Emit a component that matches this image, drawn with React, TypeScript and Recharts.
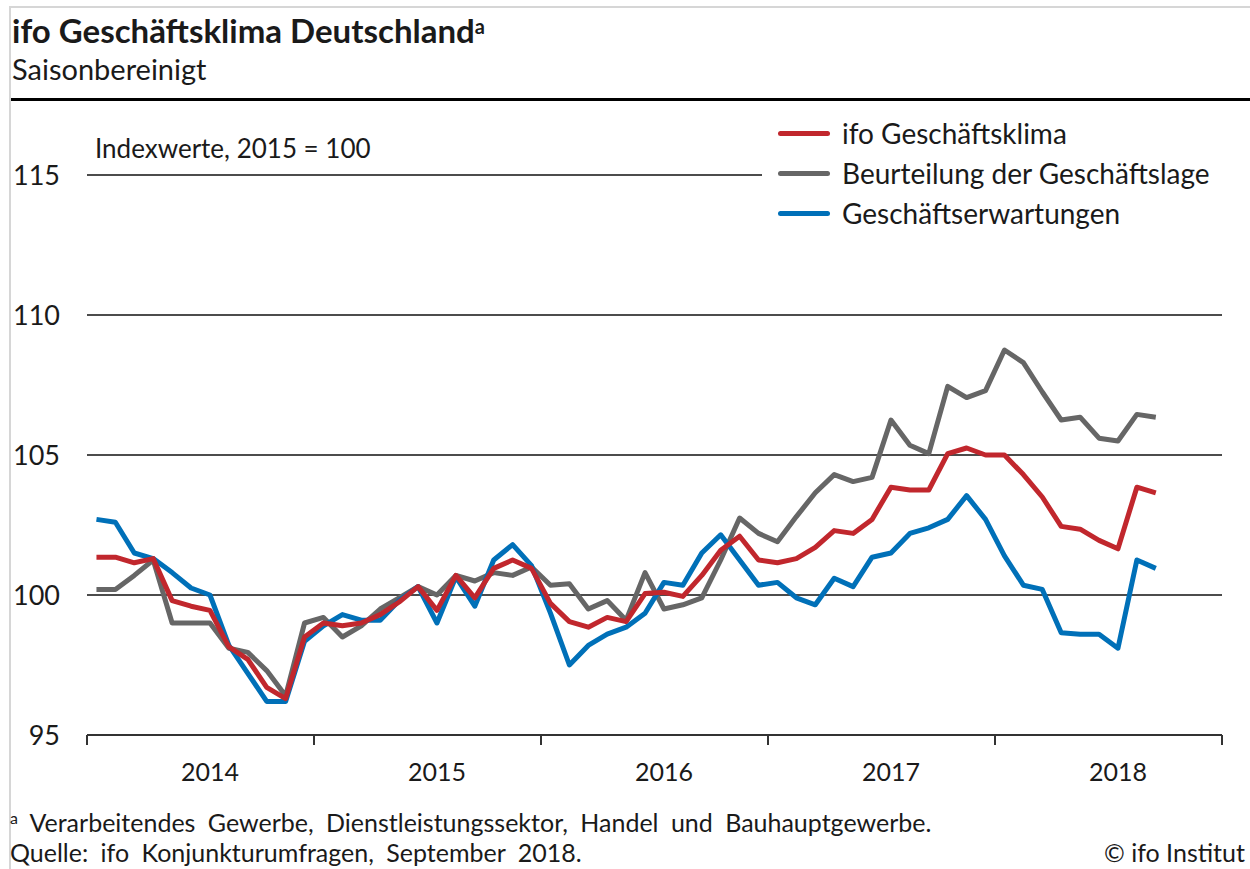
import React from 'react';
import { LineChart, Line, XAxis, YAxis, CartesianGrid, Legend } from 'recharts';

// Jan 2014 .. Sep 2018, monthly, seasonally adjusted (2015 = 100)
const YEARS = ['2014', '2015', '2016', '2017', '2018'];
const MONTHS = ['Jan', 'Feb', 'Mär', 'Apr', 'Mai', 'Jun', 'Jul', 'Aug', 'Sep', 'Okt', 'Nov', 'Dez'];

const klima = [
  101.35, 101.35, 101.15, 101.3, 99.8, 99.6, 99.45, 98.15, 97.7, 96.7, 96.3, 98.5,
  99.0, 98.9, 99.0, 99.3, 99.75, 100.3, 99.45, 100.7, 99.9, 100.95, 101.25, 100.95,
  99.7, 99.05, 98.85, 99.2, 99.05, 100.05, 100.1, 99.95, 100.7, 101.6, 102.1, 101.25,
  101.15, 101.3, 101.7, 102.3, 102.2, 102.7, 103.85, 103.75, 103.75, 105.05, 105.25, 105.0,
  105.0, 104.3, 103.5, 102.45, 102.35, 101.95, 101.65, 103.85, 103.65,
];

const lage = [
  100.2, 100.2, 100.7, 101.25, 99.0, 99.0, 99.0, 98.1, 97.95, 97.3, 96.4, 99.0,
  99.2, 98.5, 98.9, 99.5, 99.9, 100.3, 100.0, 100.7, 100.5, 100.8, 100.7, 101.0,
  100.35, 100.4, 99.5, 99.8, 99.1, 100.8, 99.5, 99.65, 99.9, 101.25, 102.75, 102.2,
  101.9, 102.8, 103.65, 104.3, 104.05, 104.2, 106.25, 105.35, 105.05, 107.45, 107.05, 107.3,
  108.75, 108.3, 107.25, 106.25, 106.35, 105.6, 105.5, 106.45, 106.35,
];

const erwartungen = [
  102.7, 102.6, 101.5, 101.3, 100.8, 100.25, 100.0, 98.2, 97.2, 96.2, 96.2, 98.35,
  98.9, 99.3, 99.1, 99.1, 99.8, 100.3, 99.0, 100.65, 99.6, 101.25, 101.8, 101.05,
  99.35, 97.5, 98.2, 98.6, 98.85, 99.35, 100.45, 100.35, 101.5, 102.15, 101.25, 100.35,
  100.45, 99.9, 99.65, 100.6, 100.3, 101.35, 101.5, 102.2, 102.4, 102.7, 103.55, 102.7,
  101.4, 100.35, 100.2, 98.65, 98.6, 98.6, 98.1, 101.25, 100.95,
];

const Y_TICKS = [95, 100, 105, 110, 115];

const SERIES = [
  { key: 'klima', name: 'ifo Geschäftsklima', color: '#C1272D' },
  { key: 'lage', name: 'Beurteilung der Geschäftslage', color: '#666666' },
  { key: 'erwartungen', name: 'Geschäftserwartungen', color: '#0070B8' },
];
// drawing order: red on top
const DRAW_ORDER = ['lage', 'erwartungen', 'klima'];

const data = klima.map((v, i) => ({
  t: i + 0.5,
  month: `${MONTHS[i % 12]} ${YEARS[Math.floor(i / 12)]}`,
  klima: v,
  lage: lage[i],
  erwartungen: erwartungen[i],
}));

// year boundaries get a tick mark, mid-year positions get the label
const xTicks: number[] = [];
YEARS.forEach((_, k) => {
  xTicks.push(k * 12, k * 12 + 6.5);
});
xTicks.push(YEARS.length * 12);

const FONT = 'Lato, "Open Sans", sans-serif';

const YearTick = (props: any) => {
  const { x, y, payload } = props;
  const v = payload.value;
  if (v % 12 === 0) {
    return <line x1={x} x2={x} y1={y} y2={y + 10} stroke="#333" strokeWidth={2} />;
  }
  return (
    <text x={x} y={y + 46} textAnchor="middle" fontSize={25} fontFamily={FONT} fill="#1a1a1a">
      {YEARS[Math.floor(v / 12)]}
    </text>
  );
};

const renderLegend = () => (
  <div style={{ background: '#fff', paddingRight: 10, fontFamily: FONT }}>
    {SERIES.map((s) => (
      <div key={s.key} style={{ display: 'flex', alignItems: 'center', height: 40 }}>
        <div style={{ width: 52, height: 5, borderRadius: 3, background: s.color, marginLeft: 16, marginRight: 12 }} />
        <span style={{ fontSize: 28, color: '#1a1a1a', whiteSpace: 'nowrap' }}>{s.name}</span>
      </div>
    ))}
  </div>
);

const footStyle: React.CSSProperties = {
  position: 'absolute', left: 10, fontSize: 25, lineHeight: 1, whiteSpace: 'nowrap', wordSpacing: 6,
};

const App: React.FC = () => (
  <div style={{ position: 'relative', width: 1250, height: 869, overflow: 'hidden', background: '#fff', fontFamily: FONT, color: '#1a1a1a' }}>
    <style>{'body{margin:0}'}</style>
    <div style={{ position: 'absolute', left: 9, top: 6, width: 1300, height: 900, borderLeft: '2px solid #d6d6d6', borderTop: '2px solid #d6d6d6' }} />
    <div style={{ position: 'absolute', left: 12, top: 14, fontSize: 33, fontWeight: 700, lineHeight: 1, whiteSpace: 'nowrap' }}>
      ifo Geschäftsklima Deutschland<span style={{ fontSize: 20, verticalAlign: 'top', position: 'relative', top: 2 }}>a</span>
    </div>
    <div style={{ position: 'absolute', left: 12, top: 54, fontSize: 29, lineHeight: 1 }}>Saisonbereinigt</div>
    <div style={{ position: 'absolute', left: 11, top: 98, width: 1250, height: 3, background: '#000' }} />

    <div style={{ position: 'absolute', left: 0, top: 0 }}>
      <LineChart width={1250} height={869} data={data} margin={{ top: 105, right: 28, left: 0, bottom: 74 }}>
        <CartesianGrid vertical={false} horizontalValues={Y_TICKS} stroke="#111" strokeWidth={1.5} />
        <XAxis
          dataKey="t"
          type="number"
          domain={[0, YEARS.length * 12]}
          ticks={xTicks}
          interval={0}
          height={60}
          tickSize={0}
          tickMargin={0}
          tickLine={false}
          axisLine={{ stroke: '#333', strokeWidth: 2 }}
          tick={<YearTick />}
        />
        <YAxis
          domain={[95, 117.5]}
          ticks={Y_TICKS}
          width={87}
          tickSize={0}
          tickMargin={27}
          axisLine={false}
          tickLine={false}
          tick={{ fontSize: 27, fontFamily: FONT, fill: '#1a1a1a' }}
        />
        <Legend
          layout="vertical"
          align="center"
          verticalAlign="middle"
          content={renderLegend}
          wrapperStyle={{ left: 762, top: 113, width: 480 }}
        />
        {DRAW_ORDER.map((k) => {
          const s = SERIES.find((x) => x.key === k)!;
          return (
            <Line
              key={k}
              dataKey={k}
              name={s.name}
              type="linear"
              stroke={s.color}
              strokeWidth={5}
              strokeLinejoin="round"
              dot={false}
              isAnimationActive={false}
            />
          );
        })}
      </LineChart>
    </div>

    <div style={{ position: 'absolute', left: 95, top: 135, fontSize: 26, lineHeight: 1, whiteSpace: 'nowrap' }}>Indexwerte, 2015 = 100</div>

    <div style={{ ...footStyle, top: 810 }}>
      <span style={{ fontSize: 16, verticalAlign: 'top' }}>a</span> Verarbeitendes Gewerbe, Dienstleistungssektor, Handel und Bauhauptgewerbe.
    </div>
    <div style={{ ...footStyle, top: 840 }}>Quelle: ifo Konjunkturumfragen, September 2018.</div>
    <div style={{ ...footStyle, left: 1104, wordSpacing: 0, top: 840 }}>© ifo Institut</div>
  </div>
);

export default App;
